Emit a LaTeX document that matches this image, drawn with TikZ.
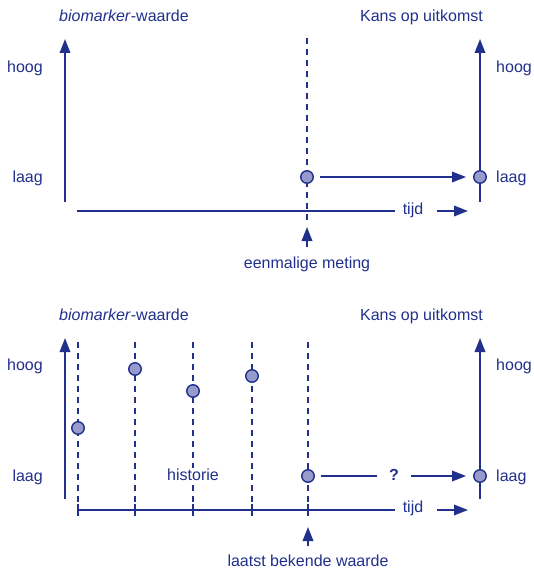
\documentclass[tikz,border=0pt]{standalone}
\usepackage{fontspec}
\setmainfont{Liberation Sans}
\usetikzlibrary{arrows.meta}
\definecolor{navy}{RGB}{32,48,140}
\definecolor{dotfill}{RGB}{152,154,204}
\begin{document}
\begin{tikzpicture}[x=1pt,y=-1pt,
  axis/.style={draw=navy,line width=1.8pt},
  arr/.style={axis,-{Triangle[length=14pt,width=10.5pt]}},
  dashline/.style={draw=navy,line width=1.3pt,dash pattern=on 6pt off 5pt},
  tick/.style={draw=navy,line width=1.3pt},
  dot/.style={circle,draw=navy,fill=dotfill,line width=1.4pt,minimum size=12.5pt,inner sep=0pt},
  lbl/.style={text=navy,font=\fontsize{16}{19}\selectfont,inner sep=1pt,text height=11.5pt,text depth=3.2pt}]
\useasboundingbox (0,0) rectangle (533,569);

% ---------------- top panel ----------------
\node[lbl,anchor=west] (t1) at (58,17) {\textit{biomarker}-waarde};
\node[lbl,anchor=east] (t2) at (484,17) {Kans op uitkomst};
\node[lbl,anchor=east] (h1) at (44,68) {hoog};
\node[lbl,anchor=east] (l1) at (44,178) {laag};
\node[lbl,anchor=west] (h2) at (495,68) {hoog};
\node[lbl,anchor=west] (l2) at (495,178) {laag};

\coordinate (ya0) at (65,202);
\coordinate (ya1) at (65,39);
\coordinate (yb0) at (480,202);
\coordinate (yb1) at (480,39);
\draw[arr] (ya0) -- (ya1);
\draw[arr] (yb0) -- (yb1);

\coordinate (xa0) at (77,211);
\coordinate (xa1) at (395,211);
\draw[axis] (xa0) -- (xa1);
\node[lbl] (tijd1) at (413,210) {tijd};
\coordinate (ta0) at (437,211);
\coordinate (ta1) at (468,211);
\draw[arr] (ta0) -- (ta1);

\coordinate (d0) at (307,38);
\coordinate (d1) at (307,221);
\draw[dashline] (d0) -- (d1);

\node[dot] (p1) at (307,177) {};
\node[dot] (q1) at (480,177) {};
\draw[arr,shorten <=6pt,shorten >=7pt] (p1) -- (q1);

\coordinate (m0) at (307,247);
\coordinate (m1) at (307,227);
\draw[arr] (m0) -- (m1);
\node[lbl,anchor=north] (meting) at (307,256) {eenmalige meting};

% ---------------- bottom panel ----------------
\node[lbl,anchor=west] (t3) at (58,316) {\textit{biomarker}-waarde};
\node[lbl,anchor=east] (t4) at (484,316) {Kans op uitkomst};
\node[lbl,anchor=east] (h3) at (44,366) {hoog};
\node[lbl,anchor=east] (l3) at (44,477) {laag};
\node[lbl,anchor=west] (h4) at (495,366) {hoog};
\node[lbl,anchor=west] (l4) at (495,477) {laag};

\coordinate (yc0) at (65,499);
\coordinate (yc1) at (65,338);
\coordinate (yd0) at (480,499);
\coordinate (yd1) at (480,338);
\draw[arr] (yc0) -- (yc1);
\draw[arr] (yd0) -- (yd1);

\foreach \x/\n in {78/a,135/b,193/c,252/d,308/e}{
  \coordinate (v\n0) at (\x,342);
  \coordinate (v\n1) at (\x,516);
  \draw[dashline] (v\n0) -- (v\n1);
  \coordinate (k\n0) at (\x,504);
  \coordinate (k\n1) at (\x,516);
  \draw[tick] (k\n0) -- (k\n1);
}

\coordinate (xc0) at (78,510);
\coordinate (xc1) at (395,510);
\draw[axis] (xc0) -- (xc1);
\node[lbl] (tijd2) at (413,508) {tijd};
\coordinate (tc0) at (437,510);
\coordinate (tc1) at (468,510);
\draw[arr] (tc0) -- (tc1);

\node[lbl,fill=white,inner xsep=3pt] (hist) at (193,476) {historie};

\node[dot] (s1) at (78,428) {};
\node[dot] (s2) at (135,369) {};
\node[dot] (s3) at (193,391) {};
\node[dot] (s4) at (252,376) {};
\node[dot] (s5) at (308,476) {};
\node[dot] (q2) at (480,476) {};

\draw[arr,shorten <=6pt,shorten >=7pt] (s5) -- node[lbl,fill=white,inner xsep=12pt,font=\fontsize{16}{19}\selectfont\bfseries] (qm) {?} (q2);

\coordinate (n0) at (308,546);
\coordinate (n1) at (308,527);
\draw[arr] (n0) -- (n1);
\node[lbl,anchor=base,text depth=0pt] (laatst) at (308,566) {laatst bekende waarde};
\end{tikzpicture}
\end{document}
